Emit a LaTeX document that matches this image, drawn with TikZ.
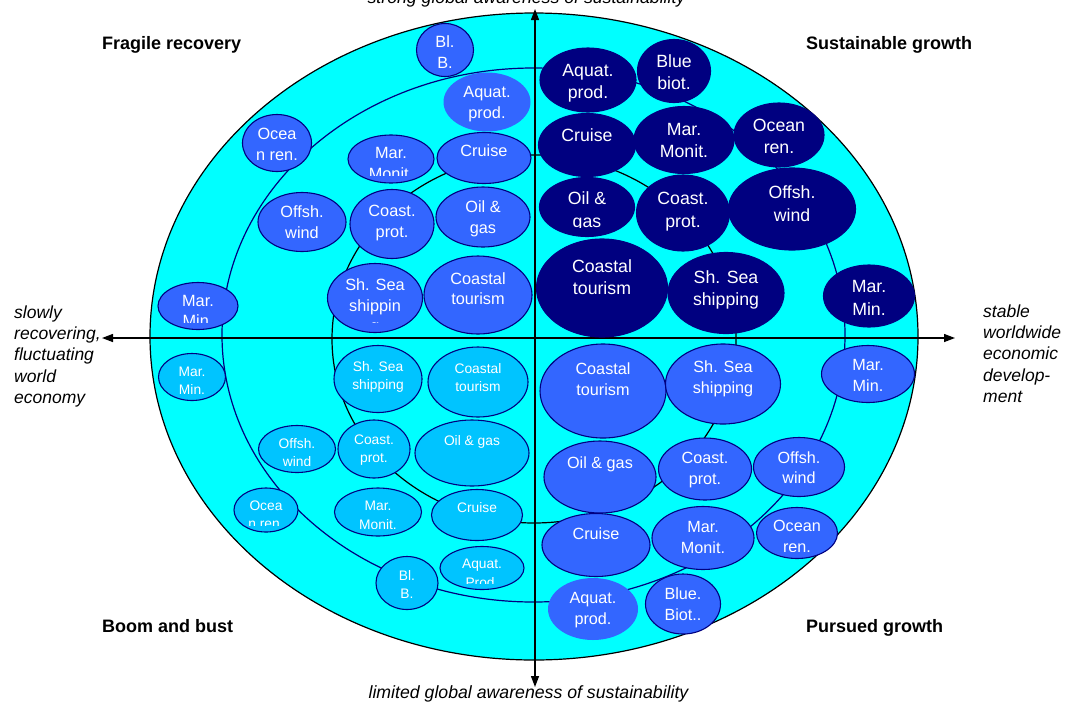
\documentclass[tikz,border=0pt]{standalone}
\usepackage{fontspec}
\setmainfont{Liberation Sans}
\usetikzlibrary{shapes.geometric,arrows.meta}
\definecolor{navy}{HTML}{000080}
\definecolor{royal}{HTML}{3366FF}
\definecolor{sky}{HTML}{00C4FF}
\definecolor{aqua}{HTML}{00FFFF}

\tikzset{
  bub/.style={ellipse, inner sep=0pt, draw=navy, line width=1.1pt},
  bubUL/.style={bub, fill=royal},
  bubUR/.style={bub, fill=navy},
  bubLL/.style={bub, fill=sky},
  bubLR/.style={bub, fill=royal},
  bubplain/.style={ellipse, inner sep=0pt, fill=royal},
  txt/.style={text=white, align=center, inner sep=0pt},
  txtUL/.style={txt, font=\fontsize{16.3}{20.7}\selectfont},
  txtUR/.style={txt, font=\fontsize{17.7}{22.2}\selectfont},
  txtLL/.style={txt, font=\fontsize{13.8}{18.6}\selectfont},
  txtLR/.style={txt, font=\fontsize{16.2}{20.7}\selectfont},
  ring/.style={line width=1.2pt},
  axis/.style={line width=1.3pt, {Triangle[length=11pt,width=8pt]}-{Triangle[length=11pt,width=8pt]}},
  quad/.style={font=\bfseries\fontsize{18}{21}\selectfont, inner sep=0pt},
  axislbl/.style={font=\itshape\fontsize{17.7}{21.3}\selectfont, inner sep=0pt},
  sidelbl/.style={font=\itshape\fontsize{17.5}{21.3}\selectfont, inner sep=0pt, align=left},
}

% #1 name, #2 shape style, #3 text style, #4 first-line height,
% #5 x, #6 y, #7 width, #8 height, #9 text (clipped to the inscribed box)
\newcommand\bubble[9]{%
  \node[#2, minimum width=#7pt, minimum height=#8pt] (#1) at (#5,#6) {};
  \begin{scope}
    \clip (#5-0.3535*#7,#6-0.3535*#8) rectangle (#5+0.3535*#7,#6+0.3535*#8);
    \node[#3, anchor=north] (#1-t) at (#5,#6-0.3535*#8) {\rule{0pt}{#4pt}#9};
  \end{scope}}
\newcommand\bUL[6]{\bubble{#1}{bubUL}{txtUL}{16.5}{#2}{#3}{#4}{#5}{#6}}
\newcommand\bUR[6]{\bubble{#1}{bubUR}{txtUR}{18.6}{#2}{#3}{#4}{#5}{#6}}
\newcommand\bLL[6]{\bubble{#1}{bubLL}{txtLL}{15.6}{#2}{#3}{#4}{#5}{#6}}
\newcommand\bLR[6]{\bubble{#1}{bubLR}{txtLR}{16.7}{#2}{#3}{#4}{#5}{#6}}

\begin{document}
\begin{tikzpicture}[x=1pt, y=-1pt]
\useasboundingbox (0,0) rectangle (1065,702);

% scenario field and the two inner rings
\draw[ring, fill=aqua] (534,336.5) ellipse (384 and 323.5);
\draw[ring, draw=navy] (533.5,335) ellipse (311.5 and 267);
\draw[ring] (534,339) ellipse (202 and 184);

% axes
\coordinate (west) at (102,338);
\coordinate (east) at (955,338);
\coordinate (north) at (535,9);
\coordinate (south) at (535,687);
\draw[axis] (west) -- (east);
\draw[axis] (south) -- (north);

% axis labels
\node[axislbl, anchor=base] (topl) at (526.5,3) {strong global awareness of sustainability};
\node[axislbl, anchor=base] (botl) at (528.5,698) {limited global awareness of sustainability};
\node[sidelbl, anchor=north west] (leftl) at (14,304) {\rule{0pt}{14pt}slowly\\recovering,\\fluctuating\\world\\economy};
\node[sidelbl, anchor=north west] (rightl) at (983,303) {\rule{0pt}{14pt}stable\\worldwide\\economic\\develop-\\ment};

% scenario names
\node[quad, anchor=base west] (fragile) at (102,49) {Fragile recovery};
\node[quad, anchor=base west] (sustain) at (806,49) {Sustainable growth};
\node[quad, anchor=base west] (boom) at (102,632) {Boom and bust};
\node[quad, anchor=base west] (pursued) at (806,632) {Pursued growth};

% Fragile recovery
\bUL{ulBlB}{445}{50}{57}{53}{Bl.\\B.}
\bubble{ulAquat}{bubplain}{txtUL}{16.5}{487}{102}{87}{59}{Aquat.\\prod.}
\bUL{ulOcean}{277}{143}{69}{57}{Ocea\\n ren.}
\bUL{ulMonit}{391}{159}{86}{48}{Mar.\\Monit.}
\bUL{ulCruise}{484}{158}{94}{51}{Cruise}
\bUL{ulOffsh}{302}{222}{88}{59}{Offsh.\\wind}
\bUL{ulCoast}{392}{224}{84}{69}{Coast.\\prot.}
\bUL{ulOil}{483}{217}{94}{60}{Oil \&\\gas}
\bUL{ulMin}{198}{306}{80}{47}{Mar.\\Min.}
\bUL{ulShip}{375}{298}{95}{69}{Sh. Sea\\shippin\\g}
\bUL{ulTour}{478}{295}{108}{78}{Coastal\\tourism}

% Sustainable growth
\bUR{urAquat}{588}{80}{96}{64}{Aquat.\\prod.}
\bUR{urBlue}{674}{71}{73}{63}{Blue\\biot.}
\bUR{urCruise}{587}{145}{97}{63}{Cruise}
\bUR{urMonit}{684}{140}{100}{67}{Mar.\\Monit.}
\bUR{urOcean}{779}{135}{90}{64}{Ocean\\ren.}
\bUR{urOil}{587}{207}{95}{59}{Oil \&\\gas}
\bUR{urCoast}{683}{213}{93}{76}{Coast.\\prot.}
\bUR{urOffsh}{792}{209}{127}{82}{Offsh.\\wind}
\bUR{urTour}{602}{288}{131}{98}{Coastal\\tourism}
\bUR{urShip}{726}{293}{116}{81}{Sh. Sea\\shipping}
\bUR{urMin}{869}{296}{91}{62}{Mar.\\Min.}

% Boom and bust
\bLL{llMin}{192}{377}{67}{47}{Mar.\\Min.}
\bLL{llShip}{378}{379}{88}{67}{Sh. Sea\\shipping}
\bLL{llTour}{478}{382}{100}{70}{Coastal\\tourism}
\bLL{llOffsh}{297}{449}{77}{47}{Offsh.\\wind}
\bLL{llCoast}{374}{449}{72}{58}{Coast.\\prot.}
\bLL{llOil}{472}{453}{114}{66}{Oil \& gas}
\bLL{llOcean}{266}{510}{64}{44}{Ocea\\n ren.}
\bLL{llMonit}{378}{512}{87}{48}{Mar.\\Monit.}
\bLL{llCruise}{477}{515}{91}{51}{Cruise}
\bLL{llBlB}{407}{583}{62}{53}{Bl.\\B.}
\bLL{llAquat}{482}{568}{84}{43}{Aquat.\\Prod.}

% Pursued growth
\bLR{lrTour}{603}{391}{126}{94}{Coastal\\tourism}
\bLR{lrShip}{723}{384}{115}{80}{Sh. Sea\\shipping}
\bLR{lrMin}{868}{374}{93}{57}{Mar.\\Min.}
\bLR{lrOil}{600}{477}{112}{72}{Oil \& gas}
\bLR{lrCoast}{705}{469}{93}{62}{Coast.\\prot.}
\bLR{lrOffsh}{799}{467}{91}{59}{Offsh.\\wind}
\bLR{lrCruise}{596}{545}{108}{63}{Cruise}
\bLR{lrMonit}{703}{538}{102}{63}{Mar.\\Monit.}
\bLR{lrOcean}{797}{533}{81}{51}{Ocean\\ren.}
\bubble{lrAquat}{bubplain}{txtLR}{16.7}{593}{609}{90}{62}{Aquat.\\prod.}
\bLR{lrBlue}{683}{604}{75}{60}{Blue.\\Biot..}
\end{tikzpicture}
\end{document}
